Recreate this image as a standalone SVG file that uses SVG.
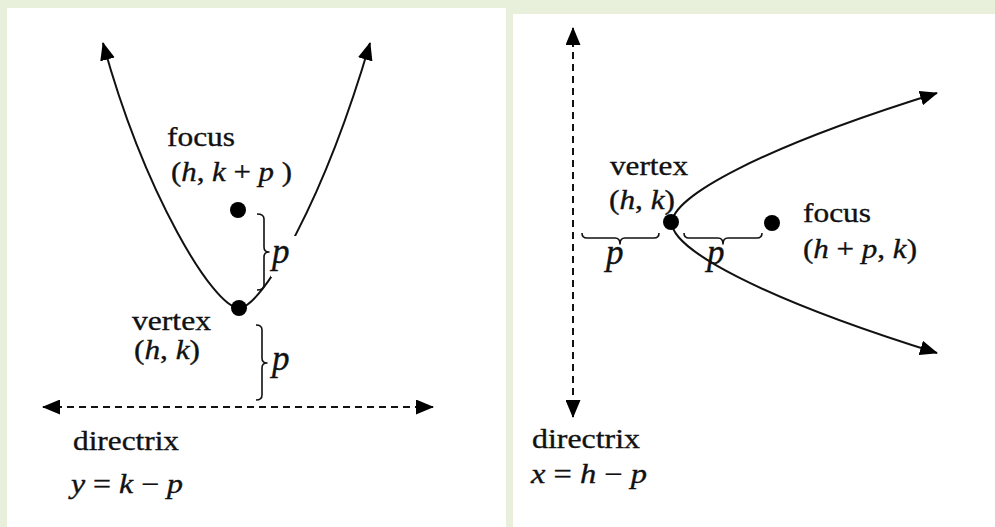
<svg xmlns="http://www.w3.org/2000/svg" width="995" height="527" viewBox="0 0 995 527">
<style>
.t{font-family:"Liberation Serif","Times New Roman",serif;font-size:27px;fill:#111;stroke:#111;stroke-width:0.35}
.i{font-style:italic}
.pl{font-family:"Liberation Serif","Times New Roman",serif;font-size:35px;font-style:italic;fill:#111;stroke:#111;stroke-width:0.35}
.curve{fill:none;stroke:#111;stroke-width:2}
.dash{fill:none;stroke:#111;stroke-width:2;stroke-dasharray:7 5}
.brace{fill:none;stroke:#111;stroke-width:1.6;stroke-linejoin:round}
.dot{fill:#000}
</style>
<defs>
<marker id="ah" markerUnits="userSpaceOnUse" viewBox="0 0 18 15" markerWidth="18" markerHeight="15" refX="17" refY="7.5" orient="auto-start-reverse">
<path d="M0,0 L18,7.5 L0,15 z" fill="#000"/>
</marker>
</defs>
<rect x="0" y="0" width="995" height="527" fill="#e8f0dc"/>
<rect x="7" y="8" width="499" height="519" fill="#fff"/>
<rect x="513" y="14" width="482" height="513" fill="#fff"/>

<g id="connectors">
<path class="curve" d="M239,308 C214,308 145,195 103,43" marker-end="url(#ah)"/>
<path class="curve" d="M239,308 C262,308 324,200 370,43" marker-end="url(#ah)"/>
<rect x="271" y="236" width="32" height="41" fill="#fff"/>
<path class="dash" d="M43,407 L433,407" marker-start="url(#ah)" marker-end="url(#ah)"/>
<path class="brace" d="M257,214 Q264,214 264,219 L264,247 Q264,252 269,252 Q264,252 264,257 L264,285 Q264,290 257,290"/>
<path class="brace" d="M256,325 Q262,325 262,330 L262,358 Q262,363 267,363 Q262,363 262,368 L262,395 Q262,400 256,400"/>
<path class="curve" d="M672,223 C672,197 760,148 937,93" marker-end="url(#ah)"/>
<path class="curve" d="M672,223 C672,249 760,298 937,353" marker-end="url(#ah)"/>
<path class="dash" d="M573,28 L573,417" marker-start="url(#ah)" marker-end="url(#ah)"/>
<path class="brace" d="M582,233 Q582,238 587,238 L615,238 Q620,238 620,244 Q620,238 625,238 L654,238 Q659,238 659,233"/>
<path class="brace" d="M684,233 Q684,238 689,238 L718,238 Q723,238 723,244 Q723,238 728,238 L757,238 Q762,238 762,233"/>
</g>

<g id="left-focus">
<circle class="dot" cx="238" cy="210" r="8"/>
<text class="t" x="167" y="146" textLength="68" lengthAdjust="spacingAndGlyphs">focus</text>
<text class="t" x="171" y="181" textLength="121" lengthAdjust="spacingAndGlyphs">(<tspan class="i">h</tspan>, <tspan class="i">k</tspan> + <tspan class="i">p</tspan> )</text>
</g>
<g id="left-vertex">
<circle class="dot" cx="239" cy="308" r="8"/>
<text class="t" x="132" y="330" textLength="79" lengthAdjust="spacingAndGlyphs">vertex</text>
<text class="t" x="134" y="359" textLength="66" lengthAdjust="spacingAndGlyphs">(<tspan class="i">h</tspan>, <tspan class="i">k</tspan>)</text>
</g>
<g id="left-p-labels">
<text class="pl" x="272" y="263">p</text>
<text class="pl" x="272" y="370">p</text>
</g>
<g id="left-directrix">
<text class="t" x="73" y="450" textLength="106" lengthAdjust="spacingAndGlyphs">directrix</text>
<text class="t" x="71" y="493" textLength="112" lengthAdjust="spacingAndGlyphs"><tspan class="i">y</tspan> = <tspan class="i">k</tspan> − <tspan class="i">p</tspan></text>
</g>

<g id="right-vertex">
<circle class="dot" cx="671" cy="222" r="8"/>
<text class="t" x="610" y="175" textLength="78" lengthAdjust="spacingAndGlyphs">vertex</text>
<text class="t" x="609" y="209" textLength="66" lengthAdjust="spacingAndGlyphs">(<tspan class="i">h</tspan>, <tspan class="i">k</tspan>)</text>
</g>
<g id="right-focus">
<circle class="dot" cx="772" cy="223" r="8"/>
<text class="t" x="803" y="222" textLength="68" lengthAdjust="spacingAndGlyphs">focus</text>
<text class="t" x="803" y="258" textLength="114" lengthAdjust="spacingAndGlyphs">(<tspan class="i">h</tspan> + <tspan class="i">p</tspan>, <tspan class="i">k</tspan>)</text>
</g>
<g id="right-p-labels">
<text class="pl" x="606" y="264">p</text>
<text class="pl" x="707" y="264">p</text>
</g>
<g id="right-directrix">
<text class="t" x="532" y="448" textLength="108" lengthAdjust="spacingAndGlyphs">directrix</text>
<text class="t" x="531" y="483" textLength="116" lengthAdjust="spacingAndGlyphs"><tspan class="i">x</tspan> = <tspan class="i">h</tspan> − <tspan class="i">p</tspan></text>
</g>
</svg>
